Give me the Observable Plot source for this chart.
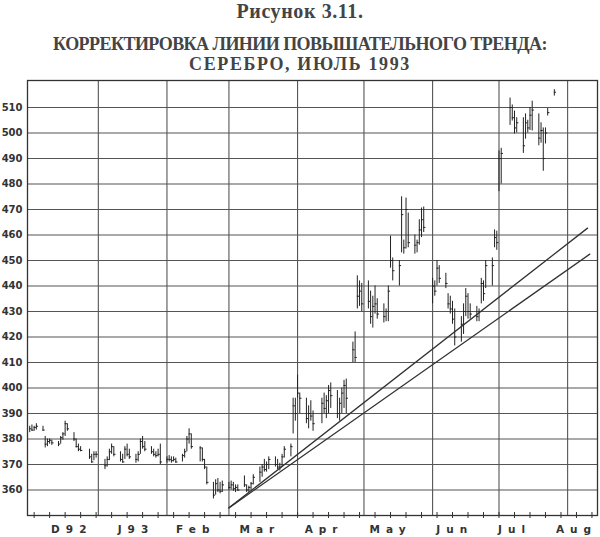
<!DOCTYPE html>
<html><head><meta charset="utf-8">
<script src="https://cdn.jsdelivr.net/npm/d3@7"></script>
<script src="https://cdn.jsdelivr.net/npm/@observablehq/plot@0.6"></script>
<style>
body{margin:0;background:#fff;width:600px;height:537px;overflow:hidden}
#head{position:relative;height:72px;font-family:"Liberation Serif",serif;color:#444;font-weight:bold;text-align:center}
#head div{position:absolute;left:0;right:0;white-space:nowrap;line-height:1}
#t1{top:1px;font-size:20px;letter-spacing:0.6px}
#t2{top:35px;font-size:18px;letter-spacing:-0.55px}
#t3{top:55px;font-size:18px;letter-spacing:1.6px}
.chart g[aria-label="x-axis tick label"] text{letter-spacing:6px}
</style></head>
<body>
<div id="head"><div id="t1">Рисунок 3.11.</div><div id="t2">КОРРЕКТИРОВКА ЛИНИИ ПОВЫШАТЕЛЬНОГО ТРЕНДА:</div><div id="t3">СЕРЕБРО, ИЮЛЬ 1993</div></div>
<div id="chart"></div>
<script>
const dates = [
"1992-12-01","1992-12-02","1992-12-03","1992-12-04","1992-12-07","1992-12-08","1992-12-09","1992-12-10","1992-12-11","1992-12-14","1992-12-15","1992-12-16","1992-12-17","1992-12-18","1992-12-21","1992-12-22","1992-12-23","1992-12-24","1992-12-28","1992-12-29","1992-12-30","1992-12-31",
"1993-01-04","1993-01-05","1993-01-06","1993-01-07","1993-01-08","1993-01-11","1993-01-12","1993-01-13","1993-01-14","1993-01-15","1993-01-18","1993-01-19","1993-01-20","1993-01-21","1993-01-22","1993-01-25","1993-01-26","1993-01-27","1993-01-28","1993-01-29",
"1993-02-01","1993-02-02","1993-02-03","1993-02-04","1993-02-05","1993-02-08","1993-02-09","1993-02-10","1993-02-11","1993-02-12","1993-02-16","1993-02-17","1993-02-18","1993-02-19","1993-02-22","1993-02-23","1993-02-24","1993-02-25","1993-02-26",
"1993-03-01","1993-03-02","1993-03-03","1993-03-04","1993-03-05","1993-03-08","1993-03-09","1993-03-10","1993-03-11","1993-03-12","1993-03-15","1993-03-16","1993-03-17","1993-03-18","1993-03-19","1993-03-22","1993-03-23","1993-03-24","1993-03-25","1993-03-26","1993-03-29","1993-03-30","1993-03-31",
"1993-04-01","1993-04-02","1993-04-05","1993-04-06","1993-04-07","1993-04-08","1993-04-12","1993-04-13","1993-04-14","1993-04-15","1993-04-16","1993-04-19","1993-04-20","1993-04-21","1993-04-22","1993-04-23","1993-04-26","1993-04-27","1993-04-28","1993-04-29","1993-04-30",
"1993-05-03","1993-05-04","1993-05-05","1993-05-06","1993-05-07","1993-05-10","1993-05-11","1993-05-12","1993-05-13","1993-05-14","1993-05-17","1993-05-18","1993-05-19","1993-05-20","1993-05-21","1993-05-24","1993-05-25","1993-05-26","1993-05-27","1993-05-28",
"1993-06-01","1993-06-02","1993-06-03","1993-06-04","1993-06-07","1993-06-08","1993-06-09","1993-06-10","1993-06-11","1993-06-14","1993-06-15","1993-06-16","1993-06-17","1993-06-18","1993-06-21","1993-06-22","1993-06-23","1993-06-24","1993-06-25","1993-06-28","1993-06-29","1993-06-30",
"1993-07-01","1993-07-02","1993-07-06","1993-07-07","1993-07-08","1993-07-09","1993-07-12","1993-07-13","1993-07-14","1993-07-15","1993-07-16","1993-07-19","1993-07-20","1993-07-21","1993-07-22","1993-07-23","1993-07-26"];
const highs = [
385,385.5,385,386,385,381,380,380,379.5,379,381,382.5,387,386,382.5,380,378,377,376,374,375,375,
372,373,376,378,377,375,374,377,378,376,374,375,380,381,379,377,376,375,376,378,
373,373.5,373,373,372.5,374,376,381,384,382,377,376.5,372,369,363,364,364.5,363,363.5,
363,363.5,363,362,362,365.5,362,361.5,363,366,369,370,372,371,373,373,372,370.5,374,377,378,396,396,
405,398,396,393,395,391,396,398,397,401,402,399,396,400,403,403.5,418,422,444,442,441,
442,438,436,440,435,433,431,440,459.6,451,450,475,458,474.5,468.6,460,458,466,470.6,471,
443,442,450,448,445,437,436,434,431,428,433,439,437,433,432,431,443,442,450,451,462,461.5,
493,494,513.7,511,508.6,506,506,507.5,505,510,512.5,507.5,504,502,502,509.6,517];
const lows = [
382.5,383,383,383.5,383,376.5,377,378,377.5,377,378,379.5,381,383,379,376.5,375,375,372,370.5,371.5,372.5,
368,369,371.5,374,373,371,370.5,372,373,372,370.5,371,374,376,375,374,373,372.5,373,370,
370.5,371,370.5,371,370.5,371,372.5,375,378,376,371,371,368,362,356.5,358,359,358.5,359,
360,360,359.5,359,359.5,361,359,359,360,362,363,365,367,367,368,369,368,367.5,369,372.5,373,382,387,
396,390,386,384,387,383,386,390,388,390,392,388,387,390,392,390,410,410,431,432,430,
431,425,423.5,429,427,425.5,426,426,447,442,440,453,452.5,454.5,455,452.5,453,456,459,461,
433,436,440,441,439,431,429,425,416.5,418,421,428,427,427,426,426,433,434,439,440,455,454,
477,480,503,504.7,499.6,500,492,497.6,500,501,500.8,495,496,485,495.7,506.7,514.5];
const closes = [
384,383.5,384.5,385,383.5,378,379,379.5,378.5,378,380.5,382,386,384,380,377,376,375.5,373,371,374,374,
369.5,372,375,377,374,372,371,376,374,373,372,374,379,377,376,375,374,373.5,374,371,
372,372,371.5,372,371,373.5,375,380,382,377,376.5,372,369,363,358,362.5,360,359.5,362,
361,362,360.5,361,360,362,360,361,362.5,365,367,369,368,370,372,370,369,369,373,376,377,393,390,
398,396,388,390,389,386,394,392,395,399,397,390,394,398,401,396,415,412,436,438,433,
434,428,432,433,429,428,430,438,450,446,448,468,455,470,457,456,457,462,466,463,
440,438,447,443,441,433,431,427,420,425,430,436,430,429,428,430,441,437,448,448,459,457,
490,492,510,506,502,504,495,504,502,507,509,498,501,490,500,508,516];

const yTicks = [360,370,380,390,400,410,420,430,440,450,460,470,480,490,500,510];
const monthStarts = ["1993-01-01","1993-02-01","1993-03-01","1993-04-01","1993-05-01","1993-06-01","1993-07-01","1993-08-01"];
const labelDates = ["1992-12-20","1993-01-18","1993-02-14","1993-03-15","1993-04-13","1993-05-13","1993-06-11","1993-07-08","1993-08-05"];
const labelTexts = ["D92","J93","Feb","Mar","Apr","May","Jun","Jul","Aug"];
const trendDates = ["1993-03-01","1993-08-10","1993-08-11"];
const upperTrend = [353,462.7];
const lowerTrend = [353,452.5];

const bars = dates.map((d,i)=>({date:new Date(d), high:highs[i], low:lows[i], close:closes[i]}));
const upper = [{date:new Date(trendDates[0]), value:upperTrend[0]},{date:new Date(trendDates[1]), value:upperTrend[1]}];
const lower = [{date:new Date(trendDates[0]), value:lowerTrend[0]},{date:new Date(trendDates[2]), value:lowerTrend[1]}];
const labelMap = new Map(labelDates.map((d,i)=>[+new Date(d), labelTexts[i]]));
const weekTicks = d3.utcThursday.range(new Date("1992-12-01"), new Date("1993-08-14"));

const chart = Plot.plot({
  className:"chart",
  width:600, height:465,
  marginLeft:27, marginRight:3, marginTop:8, marginBottom:22,
  x:{type:"utc", domain:[new Date("1992-11-30"), new Date("1993-08-14T12:00Z")]},
  y:{domain:[350,520.6]},
  style:{fontFamily:"DejaVu Sans", fontWeight:"bold", fontSize:"10px", color:"#333", background:"#fff", overflow:"visible"},
  marks:[
    Plot.gridY(yTicks, {stroke:"#555", strokeOpacity:1, strokeWidth:1.1}),
    Plot.gridX(monthStarts.map(d=>new Date(d)), {stroke:"#555", strokeOpacity:1, strokeWidth:1.1}),
    Plot.axisY(yTicks, {tickSize:0, tickPadding:5, label:null}),
    Plot.axisX(weekTicks, {tickSize:6, dy:-3, tickFormat:()=>"", label:null, stroke:"#333"}),
    Plot.axisX(labelDates.map(d=>new Date(d)), {tickSize:0, tickPadding:10, tickFormat:d=>labelMap.get(+d), label:null, fontSize:10.5}),
    Plot.frame({stroke:"#333", strokeWidth:1.3}),
    Plot.ruleX(bars, {x:"date", y1:"low", y2:"high", stroke:"#222", strokeWidth:1}),
    Plot.ruleY(bars, {y:"close", x1:"date", x2:d=>new Date(+d.date + 864e5), stroke:"#222", strokeWidth:1}),
    Plot.line(upper, {x:"date", y:"value", stroke:"#333", strokeWidth:1.3}),
    Plot.line(lower, {x:"date", y:"value", stroke:"#333", strokeWidth:1.3})
  ]
});
document.getElementById("chart").appendChild(chart);
</script>
</body></html>
